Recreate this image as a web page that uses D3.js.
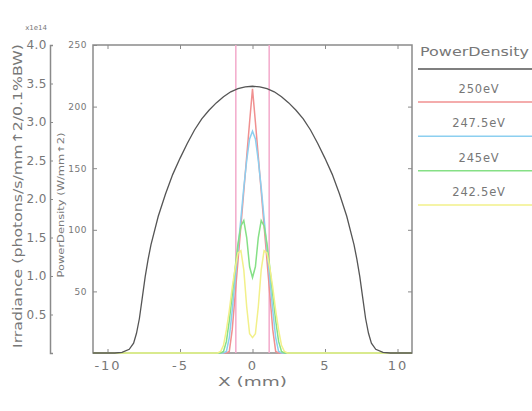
<!DOCTYPE html>
<html><head><meta charset="utf-8">
<script src="https://cdn.jsdelivr.net/npm/d3@7"></script>
<style>body{margin:0;background:#fff}svg{display:block}text{font-family:"DejaVu Sans",sans-serif;fill:#777}</style>
</head><body><svg id="c" width="532" height="411"></svg>
<script>
// ---- data ----
const xTicks = [-10, -5, 0, 5, 10];
const powerTicks = [50, 100, 150, 200, 250];
const irrTicks = [0.5, 1.0, 1.5, 2.0, 2.5, 3.0, 3.5, 4.0];
const legendTitle = "PowerDensity";
const seriesNames = ["250eV", "247.5eV", "245eV", "242.5eV"];
const seriesColors = ["#f09090", "#8ccff0", "#86e086", "#f2f08a"];
const slitX = [-1.15, 1.15];
// power density (W/mm^2) vs X (mm)
const powerX = [-11, -9.5, -9, -8.5, -8.2, -8, -7.8, -7.6, -7.4, -7.2, -7, -6.5, -6, -5.5, -5, -4.5, -4, -3.5, -3, -2.5, -2, -1.5, -1, -0.5, 0,
                0.5, 1, 1.5, 2, 2.5, 3, 3.5, 4, 4.5, 5, 5.5, 6, 6.5, 7, 7.2, 7.4, 7.6, 7.8, 8, 8.2, 8.5, 9, 9.5, 11];
const powerY = [0, 0, 0.5, 3, 8, 16, 28, 45, 62, 76, 88, 111, 129, 145, 158, 170, 181, 190, 197, 203, 208, 212, 214.5, 216, 216.5,
                216, 214.5, 212, 208, 203, 197, 190, 181, 170, 158, 145, 129, 111, 88, 76, 62, 45, 28, 16, 8, 3, 0.5, 0, 0];
// irradiance (x1e14 photons/s/mm^2/0.1%BW) vs X (mm)
const irrX = [-11, -2.4, -2.2, -2.0, -1.8, -1.6, -1.4, -1.2, -1.0, -0.8, -0.6, -0.4, -0.2, 0, 0.2, 0.4, 0.6, 0.8, 1.0, 1.2, 1.4, 1.6, 1.8, 2.0, 2.2, 2.4, 11];
const irr250  = [0, 0, 0, 0, 0, 0.02, 0.3, 0.75, 1.2, 1.65, 2.1, 2.55, 3.0, 3.43, 3.0, 2.55, 2.1, 1.65, 1.2, 0.75, 0.3, 0.02, 0, 0, 0, 0, 0];
const irr2475 = [0, 0, 0, 0, 0.02, 0.2, 0.55, 0.95, 1.35, 1.75, 2.15, 2.5, 2.78, 2.88, 2.78, 2.5, 2.15, 1.75, 1.35, 0.95, 0.55, 0.2, 0.02, 0, 0, 0, 0];
const irr245  = [0, 0, 0, 0.02, 0.15, 0.42, 0.75, 1.1, 1.42, 1.65, 1.72, 1.5, 1.12, 0.98, 1.12, 1.5, 1.72, 1.65, 1.42, 1.1, 0.75, 0.42, 0.15, 0.02, 0, 0, 0];
const irr2425 = [0, 0, 0.02, 0.1, 0.3, 0.55, 0.85, 1.1, 1.3, 1.33, 1.08, 0.6, 0.25, 0.2, 0.25, 0.6, 1.08, 1.33, 1.3, 1.1, 0.85, 0.55, 0.3, 0.1, 0.02, 0, 0];
const irrSeries = [irr250, irr2475, irr245, irr2425];

// ---- layout ----
const svg = d3.select("#c");
const L = 93, R = 412, T = 45, B = 353;
const x = d3.scaleLinear().domain([-11, 11]).range([L, R]);
const yP = d3.scaleLinear().domain([0, 250]).range([B, T]);
const yI = d3.scaleLinear().domain([0, 4]).range([B, T]);
const axisCol = "#8a8a8a";

// frame
svg.append("rect").attr("x", L).attr("y", T).attr("width", R - L).attr("height", B - T)
  .attr("fill", "none").attr("stroke", axisCol).attr("stroke-width", 1.5);

// bottom axis (ticks inward)
const bx = svg.append("g").attr("transform", `translate(0,${B})`)
  .call(d3.axisBottom(x).tickValues(xTicks).tickSize(-4).tickPadding(8).tickFormat(d => String(d)));
bx.select(".domain").remove();
bx.selectAll("line").attr("stroke", axisCol);
bx.selectAll("text").attr("font-size", 13).attr("fill", "#777").style("letter-spacing", "2px");
// top ticks
const tx = svg.append("g").attr("transform", `translate(0,${T})`)
  .call(d3.axisTop(x).tickValues(xTicks).tickSize(-4).tickFormat(""));
tx.select(".domain").remove(); tx.selectAll("line").attr("stroke", axisCol);

// inner left axis (power density)
const ly = svg.append("g").attr("transform", `translate(${L},0)`)
  .call(d3.axisLeft(yP).tickValues(powerTicks).tickSize(-4).tickPadding(6));
ly.select(".domain").remove();
ly.selectAll("line").attr("stroke", axisCol);
ly.selectAll("text").attr("font-size", 9).attr("fill", "#777").style("letter-spacing", "0.5px");
// right ticks
const ry = svg.append("g").attr("transform", `translate(${R},0)`)
  .call(d3.axisRight(yP).tickValues(powerTicks.slice(0, 4)).tickSize(-4).tickFormat(""));
ry.select(".domain").remove(); ry.selectAll("line").attr("stroke", axisCol);

// outer left axis (irradiance)
const oy = svg.append("g").attr("transform", `translate(50,0)`)
  .call(d3.axisLeft(yI).tickValues(irrTicks).tickSize(-3).tickPadding(3).tickFormat(d3.format(".1f")));
oy.select(".domain").attr("stroke", axisCol).attr("stroke-width", 1.5);
oy.selectAll("line").attr("stroke", axisCol);
oy.selectAll("text").attr("font-size", 12).attr("fill", "#777").style("letter-spacing", "0.5px");
svg.append("text").attr("x", 47).attr("y", 30).attr("text-anchor", "end")
  .attr("font-size", 7).text("x1e14");

// axis titles
svg.append("text").attr("transform", "translate(22,196) rotate(-90)").attr("text-anchor", "middle")
  .attr("font-size", 12.5).attr("textLength", 304).attr("lengthAdjust", "spacingAndGlyphs")
  .text("Irradiance (photons/s/mm\u21912/0.1%BW)");
svg.append("text").attr("transform", "translate(64,205) rotate(-90)").attr("text-anchor", "middle")
  .attr("font-size", 8).attr("textLength", 145).attr("lengthAdjust", "spacingAndGlyphs")
  .text("PowerDensity (W/mm\u21912)");
svg.append("text").attr("x", x(0)).attr("y", 386).attr("text-anchor", "middle")
  .attr("font-size", 13).attr("textLength", 69).attr("lengthAdjust", "spacingAndGlyphs").text("X (mm)");

// slit lines
svg.selectAll(".slit").data(slitX).join("line")
  .attr("x1", d => x(d)).attr("x2", d => x(d)).attr("y1", T).attr("y2", B)
  .attr("stroke", "#f3aacb").attr("stroke-width", 1.5);

// curves
const iLine = d3.line().x((d, i) => x(irrX[i])).y(d => yI(d));
irrSeries.forEach((s, k) => {
  svg.append("path").datum(s).attr("d", iLine).attr("fill", "none")
    .attr("stroke", seriesColors[k]).attr("stroke-width", 1.5);
});
const pLine = d3.line().x((d, i) => x(powerX[i])).y(d => yP(d));
svg.append("path").datum(powerY).attr("d", pLine).attr("fill", "none")
  .attr("stroke", "#555").attr("stroke-width", 1.3);

// legend
const lx0 = 418;
svg.append("text").attr("x", 420).attr("y", 56).attr("font-size", 13).attr("textLength", 109)
  .attr("lengthAdjust", "spacingAndGlyphs").text(legendTitle);
svg.append("line").attr("x1", lx0).attr("x2", 532).attr("y1", 69).attr("y2", 69)
  .attr("stroke", "#555").attr("stroke-width", 1.3);
const rowY = d3.scaleLinear().domain([0, 3]).range([102, 205]);
seriesNames.forEach((n, k) => {
  svg.append("text").attr("x", 479).attr("y", rowY(k) - 9).attr("text-anchor", "middle")
    .attr("font-size", 11.5).style("letter-spacing", "0.8px").text(n);
  svg.append("line").attr("x1", lx0).attr("x2", 532).attr("y1", rowY(k)).attr("y2", rowY(k))
    .attr("stroke", seriesColors[k]).attr("stroke-width", 1.5);
});
</script></body></html>
